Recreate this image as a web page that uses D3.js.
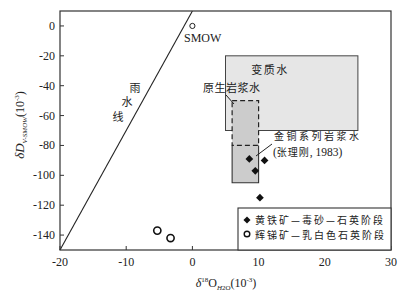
<!DOCTYPE html>
<html>
<head>
<meta charset="utf-8">
<script src="https://cdn.jsdelivr.net/npm/d3@7"></script>
<style>
  body { margin: 0; background: #fff; }
  svg text { fill: #222; }
  .num { font-family: "Liberation Serif", "DejaVu Serif", serif; font-size: 12px; }
  .cjk { font-family: "Noto Sans CJK SC", sans-serif; font-size: 11px; }
</style>
</head>
<body>
<div id="chart"></div>
<script>
// Chart size
const width = 402;
const height = 296;

// Data
const xTicks = [-20, -10, 0, 10, 20, 30];
const yTicks = [0, -20, -40, -60, -80, -100, -120, -140];
const meteoricLine = [[-20, -150], [0, 10]];
const smowPoint = [0, 0];
const pyriteStage = [[8.6, -89], [9.5, -97], [10.9, -90], [10.2, -115]];
const stibniteStage = [[-5.3, -137], [-3.3, -142]];
const metamorphicX = [5, 25];
const metamorphicY = [-70, -20];
const primaryMagmaX = [6, 10];
const primaryMagmaY = [-80, -50];
const jinlongX = [6, 10];
const jinlongY = [-105, -80];
const legendLabels = ["黄铁矿—毒砂—石英阶段", "辉锑矿—乳白色石英阶段"];

const svg = d3.select("#chart")
    .append("svg")
    .attr("width", width)
    .attr("height", height);

// Scales
const x = d3.scaleLinear().domain([-20, 30]).range([60, 391]);
const y = d3.scaleLinear().domain([-150, 10]).range([250, 11]);

// Metamorphic water box
svg.append("rect")
    .attr("x", x(metamorphicX[0]))
    .attr("y", y(metamorphicY[1]))
    .attr("width", x(metamorphicX[1]) - x(metamorphicX[0]))
    .attr("height", y(metamorphicY[0]) - y(metamorphicY[1]))
    .attr("fill", "#e6e6e6")
    .attr("stroke", "#444")
    .attr("stroke-width", 1);

// Jinlong series magmatic water (solid sides) + primary magmatic water (dashed)
svg.append("rect")
    .attr("x", x(primaryMagmaX[0]))
    .attr("y", y(primaryMagmaY[1]))
    .attr("width", x(primaryMagmaX[1]) - x(primaryMagmaX[0]))
    .attr("height", y(jinlongY[0]) - y(primaryMagmaY[1]))
    .attr("fill", "#cccccc");

svg.append("path")
    .attr("d", d3.line()([
        [x(jinlongX[0]), y(jinlongY[1])],
        [x(jinlongX[0]), y(jinlongY[0])],
        [x(jinlongX[1]), y(jinlongY[0])],
        [x(jinlongX[1]), y(jinlongY[1])]
    ]))
    .attr("fill", "none")
    .attr("stroke", "#333")
    .attr("stroke-width", 1.1);

svg.append("rect")
    .attr("x", x(primaryMagmaX[0]))
    .attr("y", y(primaryMagmaY[1]))
    .attr("width", x(primaryMagmaX[1]) - x(primaryMagmaX[0]))
    .attr("height", y(primaryMagmaY[0]) - y(primaryMagmaY[1]))
    .attr("fill", "none")
    .attr("stroke", "#222")
    .attr("stroke-width", 1.2)
    .attr("stroke-dasharray", "5,3");

// Meteoric water line
svg.append("path")
    .attr("d", d3.line().x(d => x(d[0])).y(d => y(d[1]))(meteoricLine))
    .attr("fill", "none")
    .attr("stroke", "#222")
    .attr("stroke-width", 1.1);

// Frame and ticks
svg.append("rect")
    .attr("x", 60).attr("y", 11)
    .attr("width", 331).attr("height", 239)
    .attr("fill", "none")
    .attr("stroke", "#333")
    .attr("stroke-width", 1.2);

svg.selectAll(".xtick").data(xTicks).join("line")
    .attr("x1", d => x(d)).attr("x2", d => x(d))
    .attr("y1", 250).attr("y2", 246)
    .attr("stroke", "#333");

svg.selectAll(".xlab").data(xTicks).join("text")
    .attr("class", "num")
    .attr("x", d => x(d))
    .attr("y", 266)
    .attr("text-anchor", "middle")
    .text(d => d);

svg.selectAll(".ytick").data(yTicks).join("line")
    .attr("x1", 60).attr("x2", 64)
    .attr("y1", d => y(d)).attr("y2", d => y(d))
    .attr("stroke", "#333");

svg.selectAll(".ylab").data(yTicks).join("text")
    .attr("class", "num")
    .attr("x", 55)
    .attr("y", d => y(d) + 4)
    .attr("text-anchor", "end")
    .text(d => d);

// Axis titles
const xTitle = svg.append("text")
    .attr("class", "num")
    .attr("x", 226)
    .attr("y", 287)
    .attr("text-anchor", "middle");
xTitle.append("tspan").attr("font-style", "italic").text("δ");
xTitle.append("tspan").attr("font-size", 7).attr("dy", -5).text("18");
xTitle.append("tspan").attr("dy", 5).text("O");
xTitle.append("tspan").attr("font-size", 7).attr("font-style", "italic").attr("dy", 3).text("H");
xTitle.append("tspan").attr("font-size", 7).text("2O");
xTitle.append("tspan").attr("dy", -3).text("(10");
xTitle.append("tspan").attr("font-size", 7).attr("dy", -5).text("-3");
xTitle.append("tspan").attr("dy", 5).text(")");

const yTitle = svg.append("text")
    .attr("class", "num")
    .attr("transform", "translate(24,125) rotate(-90)")
    .attr("text-anchor", "middle");
yTitle.append("tspan").attr("font-style", "italic").attr("font-size", 13).text("δD");
yTitle.append("tspan").attr("font-size", 7).attr("font-style", "italic").attr("dy", 3).text("V-SMOW");
yTitle.append("tspan").attr("dy", -3).text("(10");
yTitle.append("tspan").attr("font-size", 7).attr("dy", -5).text("-3");
yTitle.append("tspan").attr("dy", 5).text(")");

// SMOW
svg.append("circle")
    .attr("cx", x(smowPoint[0]))
    .attr("cy", y(smowPoint[1]))
    .attr("r", 2.6)
    .attr("fill", "#fff")
    .attr("stroke", "#222")
    .attr("stroke-width", 1);
svg.append("text")
    .attr("class", "num")
    .attr("x", 184)
    .attr("y", 42)
    .text("SMOW");

// Labels
const rainChars = [["雨", 135, 92], ["水", 127, 106], ["线", 118, 121]];
svg.selectAll(".rain").data(rainChars).join("text")
    .attr("class", "cjk")
    .attr("x", d => d[1])
    .attr("y", d => d[2])
    .attr("text-anchor", "middle")
    .text(d => d[0]);

svg.append("text")
    .attr("class", "cjk")
    .attr("x", 270)
    .attr("y", 74)
    .attr("text-anchor", "middle")
    .attr("letter-spacing", 1.5)
    .text("变质水");

svg.append("text")
    .attr("class", "cjk")
    .attr("x", 203)
    .attr("y", 92)
    .attr("letter-spacing", 0.5)
    .text("原生岩浆水");
svg.append("line")
    .attr("x1", 226).attr("y1", 95)
    .attr("x2", 234).attr("y2", 104)
    .attr("stroke", "#222");

svg.append("text")
    .attr("class", "cjk")
    .attr("x", 274)
    .attr("y", 140)
    .attr("letter-spacing", 2.5)
    .style("font-size", "10px")
    .text("金铜系列岩浆水");
const cite = svg.append("text")
    .attr("x", 273)
    .attr("y", 155.5);
cite.append("tspan").attr("class", "num").style("font-size", "11.5px").text("(");
cite.append("tspan").attr("class", "cjk").style("font-size", "10px").attr("letter-spacing", 1).text("张理刚");
cite.append("tspan").attr("class", "num").style("font-size", "11.5px").text(", 1983)");
svg.append("line")
    .attr("x1", 256).attr("y1", 156)
    .attr("x2", 272).attr("y2", 144)
    .attr("stroke", "#222");

// Points
const diamond = d3.symbol().type(d3.symbolDiamond2).size(38);
svg.selectAll(".pyrite").data(pyriteStage).join("path")
    .attr("d", diamond)
    .attr("transform", d => `translate(${x(d[0])},${y(d[1])})`)
    .attr("fill", "#111");

svg.selectAll(".stibnite").data(stibniteStage).join("circle")
    .attr("cx", d => x(d[0]))
    .attr("cy", d => y(d[1]))
    .attr("r", 3.6)
    .attr("fill", "#fff")
    .attr("stroke", "#111")
    .attr("stroke-width", 1.6);

// Legend
svg.append("rect")
    .attr("x", 238).attr("y", 208)
    .attr("width", 153).attr("height", 42)
    .attr("fill", "#fff")
    .attr("stroke", "#333")
    .attr("stroke-width", 1.1);

svg.append("path")
    .attr("d", d3.symbol().type(d3.symbolDiamond2).size(32))
    .attr("transform", "translate(247,220)")
    .attr("fill", "#111");
svg.append("circle")
    .attr("cx", 247).attr("cy", 234)
    .attr("r", 2.8)
    .attr("fill", "#fff")
    .attr("stroke", "#111")
    .attr("stroke-width", 1.4);

svg.selectAll(".leg").data(legendLabels).join("text")
    .attr("class", "cjk")
    .attr("x", 255)
    .attr("y", (d, i) => 223.5 + i * 15)
    .attr("letter-spacing", 2)
    .style("font-size", "10px")
    .text(d => d);
</script>
</body>
</html>
